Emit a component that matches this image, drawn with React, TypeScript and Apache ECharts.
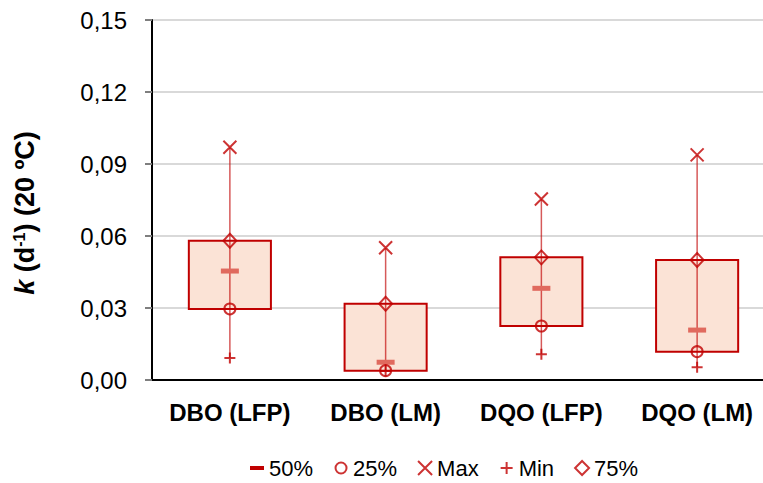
import React, { useEffect, useRef } from "react";
import * as echarts from "echarts";

const categories = ["DBO (LFP)", "DBO (LM)", "DQO (LFP)", "DQO (LM)"];
const p50 = [0.0454, 0.0074, 0.0382, 0.0208];
const p25 = [0.0296, 0.0039, 0.0225, 0.0118];
const p75 = [0.058, 0.0318, 0.0511, 0.05];
const maxV = [0.097, 0.0551, 0.0754, 0.0938];
const minV = [0.0092, 0.0037, 0.0107, 0.0053];
const yMin = 0;
const yMax = 0.15;
const yStep = 0.03;

const RED = "#C00000";
const FONT = "'Liberation Sans', Arial, sans-serif";
const CLEAR = "rgba(0,0,0,0)";

const xPath = "path://M0,0L10,10M10,0L0,10";
const plusPath = "path://M5,0L5,10M0,5L10,5";
const dashIcon = "path://M0,0M0,5h14v4h-14zM14,14";
const circleIcon = "path://M0,0M14,14M12.5,7A5.5,5.5,0,1,1,1.5,7A5.5,5.5,0,1,1,12.5,7Z";
const plusIcon = "path://M0,0M14,14M7,1L7,13M1,7L13,7";

export default function App() {
  const ref = useRef<HTMLDivElement>(null);
  useEffect(() => {
    if (!ref.current) return;
    const chart = echarts.init(ref.current, null, { renderer: "svg" });
    const boxData = categories.map((_, i) => [i, p25[i], p75[i], minV[i], maxV[i]]);
    const stroke = { color: CLEAR, borderColor: RED, borderWidth: 2 };
    chart.setOption({
      animation: false,
      grid: { left: 152, top: 20, width: 623, height: 360, show: true, borderColor: "#000", borderWidth: 2, backgroundColor: CLEAR },
      xAxis: {
        type: "category",
        data: categories,
        axisLine: { lineStyle: { color: "#000", width: 2 } },
        axisTick: { show: false },
        axisLabel: { interval: 0, color: "#000", fontFamily: FONT, fontSize: 24, fontWeight: "bold", margin: 20 },
      },
      yAxis: {
        type: "value",
        min: yMin,
        max: yMax,
        interval: yStep,
        axisLine: { show: true, lineStyle: { color: "#000", width: 2 } },
        axisTick: { show: true, length: 7, lineStyle: { color: "#7f7f7f", width: 2 } },
        splitLine: { lineStyle: { color: "#D9D9D9", width: 2 } },
        axisLabel: {
          color: "#000",
          fontFamily: FONT,
          fontSize: 24,
          margin: 25,
          formatter: (v: number) => v.toFixed(2).replace(".", ","),
        },
      },
      legend: {
        left: 245,
        top: 452,
        itemWidth: 14,
        itemHeight: 14,
        itemGap: 20,
        textStyle: { color: "#000", fontFamily: FONT, fontSize: 22 },
        data: [
          { name: "50%", icon: dashIcon, itemStyle: { color: RED, opacity: 1, borderWidth: 0 } },
          { name: "25%", icon: circleIcon, itemStyle: stroke },
          { name: "Max", icon: xPath, itemStyle: stroke },
          { name: "Min", icon: plusIcon, itemStyle: stroke },
          { name: "75%", icon: "diamond", itemStyle: stroke },
        ],
      },
      graphic: [
        {
          type: "text",
          x: 25,
          y: 213,
          rotation: Math.PI / 2,
          style: {
            text: "{k|k} (d{sup|-1}) (20 ºC)",
            align: "center",
            verticalAlign: "middle",
            fill: "#000",
            font: `bold 27px ${FONT}`,
            rich: {
              k: { fontStyle: "italic", fontWeight: "bold", fontSize: 27, fontFamily: FONT, fill: "#000" },
              sup: { fontWeight: "bold", fontSize: 16, fontFamily: FONT, verticalAlign: "top", fill: "#000" },
            },
          },
        },
      ],
      series: [
        {
          type: "custom",
          name: "box",
          z: 2,
          data: boxData,
          encode: { x: 0, y: [1, 2, 3, 4] },
          renderItem: (params: any, api: any) => {
            const x = api.value(0);
            const q1 = api.coord([x, api.value(1)]);
            const q3 = api.coord([x, api.value(2)]);
            const lo = api.coord([x, api.value(3)]);
            const hi = api.coord([x, api.value(4)]);
            const w = api.size([1, 0])[0] * 0.527;
            return {
              type: "group",
              children: [
                {
                  type: "rect",
                  shape: { x: q1[0] - w / 2, y: q3[1], width: w, height: q1[1] - q3[1] },
                  style: { fill: "#FBE3D6", stroke: RED, lineWidth: 2 },
                },
                {
                  type: "line",
                  shape: { x1: lo[0], y1: lo[1], x2: hi[0], y2: hi[1] },
                  style: { stroke: "rgba(192,0,0,0.65)", lineWidth: 1.5 },
                },
              ],
            };
          },
        },
        {
          type: "scatter",
          name: "50%",
          z: 3,
          data: p50,
          symbol: "rect",
          symbolSize: [18, 5],
          itemStyle: { color: "#E06A5E", opacity: 1 },
        },
        { type: "scatter", name: "25%", z: 4, data: p25, symbol: "circle", symbolSize: 11, itemStyle: stroke },
        { type: "scatter", name: "Max", z: 4, data: maxV, symbol: xPath, symbolSize: 13, itemStyle: stroke },
        { type: "scatter", name: "Min", z: 4, data: minV, symbol: plusPath, symbolSize: 11, itemStyle: stroke },
        { type: "scatter", name: "75%", z: 4, data: p75, symbol: "diamond", symbolSize: [13, 14], itemStyle: stroke },
      ],
    });
    return () => chart.dispose();
  }, []);
  return (
    <div style={{ position: "absolute", left: 0, top: 0, width: 763, height: 483, overflow: "hidden" }}>
      <div ref={ref} style={{ width: 790, height: 483 }} />
    </div>
  );
}
